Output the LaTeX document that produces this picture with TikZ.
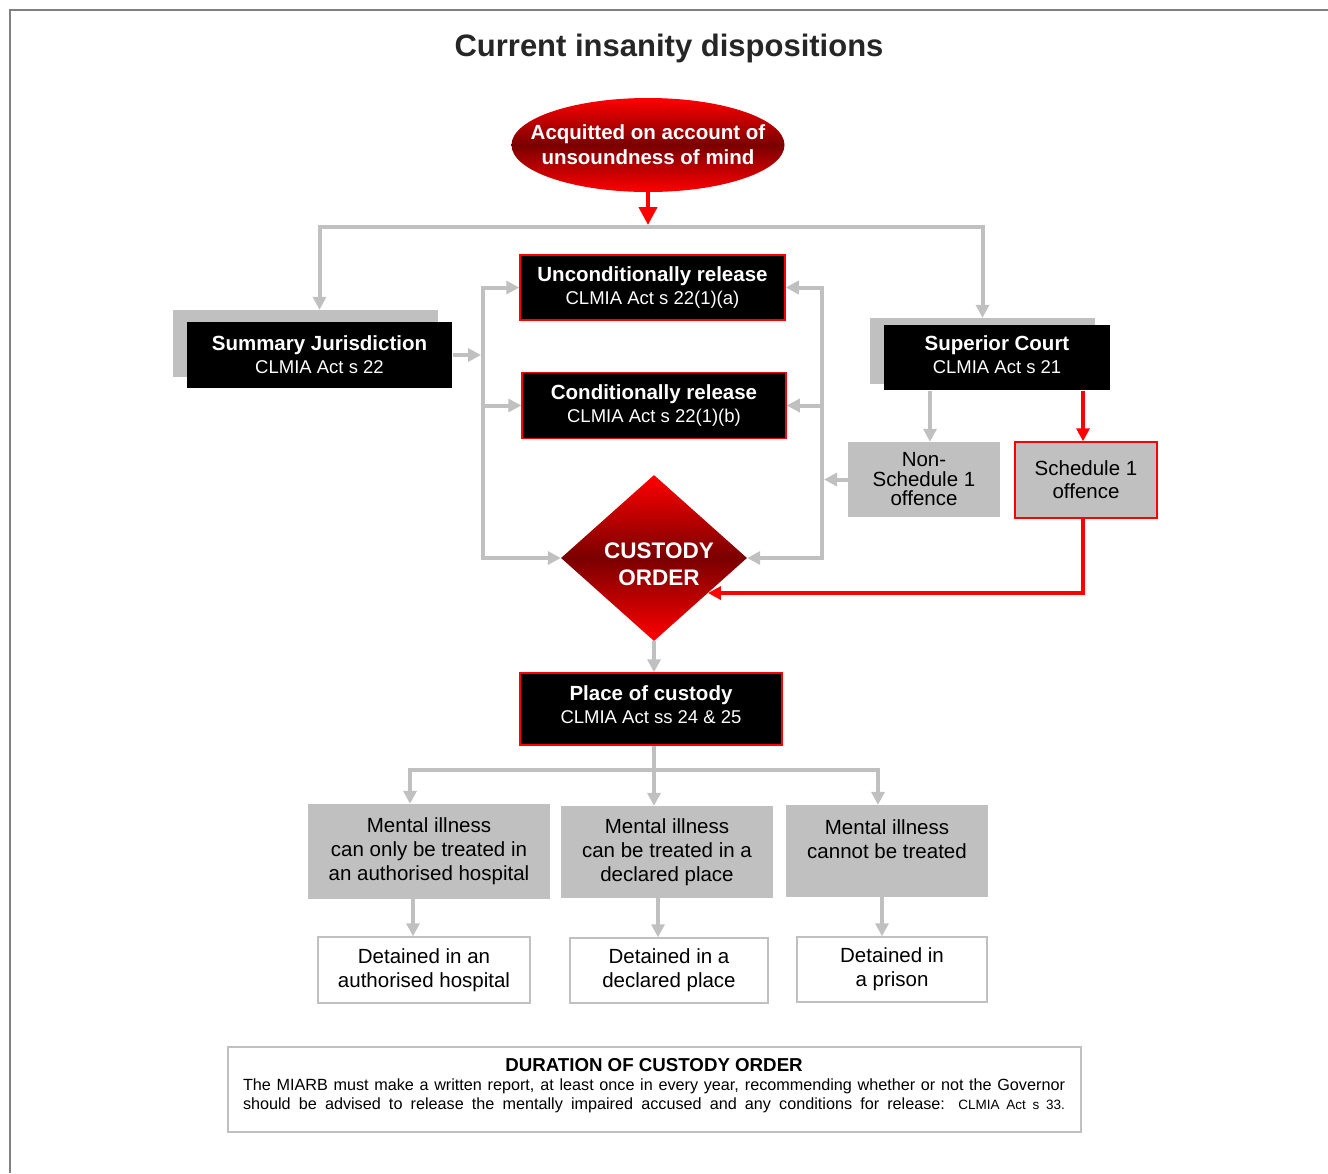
\documentclass[tikz,border=0pt]{standalone}
\usepackage{fontspec}
\setmainfont{Liberation Sans}
\usetikzlibrary{shapes.geometric,arrows.meta,calc}
\definecolor{gr}{HTML}{C0C0C0}
\definecolor{framegray}{HTML}{808080}
\definecolor{dred}{HTML}{7A0000}
\newcommand\hdtxt[1]{{\bfseries\fontsize{20.5}{23}\selectfont #1}}
\begin{document}
\begin{tikzpicture}[x=1pt,y=-1pt,
  gline/.style={draw=gr,line width=4pt},
  garrow/.style={gline,-{Triangle[length=13pt,width=13pt]}},
  gtwo/.style={gline,{Triangle[length=13pt,width=13pt]}-{Triangle[length=13pt,width=13pt]}},
  rarrow/.style={draw=red,line width=4pt,-{Triangle[length=13pt,width=13pt]}},
  bigrarrow/.style={draw=red,line width=4pt,-{Triangle[length=18pt,width=18pt]}},
  bbox/.style={rectangle,fill=black,draw=red,line width=1.5pt,text=white,align=center,inner sep=0pt,font=\fontsize{18.5}{23}\selectfont},
  bboxn/.style={bbox,draw=none},
  shadowbox/.style={rectangle,fill=gr,inner sep=0pt},
  gbox/.style={rectangle,fill=gr,align=center,inner sep=0pt,font=\fontsize{20.5}{24}\selectfont},
  wbox/.style={rectangle,fill=white,draw=gr,line width=1.5pt,align=center,inner sep=0pt,font=\fontsize{20.5}{24}\selectfont}
]
\useasboundingbox (0,0) rectangle (1328,1173);
\fill[white] (0,0) rectangle (1328,1173);
\draw[framegray,line width=2pt] (10,1173) -- (10,10) -- (1328,10);

\node[font=\bfseries\fontsize{31}{36}\selectfont,text=black!85,inner sep=0pt] (title) at (669,48) {Current insanity dispositions};

\node[ellipse,minimum width=273pt,minimum height=94pt,inner xsep=-25pt,inner ysep=0pt,top color=red,bottom color=red,middle color=dred,text=white,align=center,font=\bfseries\fontsize{20.5}{25}\selectfont] (acq) at (648,145) {Acquitted on account of\\unsoundness of mind};

\coordinate (split) at (648,227);

\node[shadowbox,minimum width=265pt,minimum height=67pt] (sjs) at (305.5,343.5) {};
\node[bboxn,minimum width=265pt,minimum height=66pt] (sj) at (319.5,355) {\hdtxt{Summary Jurisdiction}\\CLMIA Act s 22};

\node[shadowbox,minimum width=225pt,minimum height=66pt] (scs) at (982.5,351) {};
\node[bboxn,minimum width=226pt,minimum height=65pt] (sc) at (997,357.5) {\hdtxt{Superior Court}\\CLMIA Act s 21\\[-18pt]};

\node[bbox,minimum width=265pt,minimum height=65pt] (uc) at (652.5,287.5) {\hdtxt{Unconditionally release}\\CLMIA Act s 22(1)(a)};
\node[bbox,minimum width=264pt,minimum height=66pt] (cr) at (654,405.5) {\hdtxt{Conditionally release}\\CLMIA Act s 22(1)(b)};

\node[gbox,minimum width=152pt,minimum height=75pt,font=\fontsize{20.5}{19.5}\selectfont] (ns) at (924,479.5) {Non-\\Schedule 1\\offence};
\node[gbox,draw=red,line width=1.5pt,minimum width=142pt,minimum height=76pt,font=\fontsize{20.5}{23}\selectfont] (sch) at (1086,480) {Schedule 1\\offence};

\node[diamond,minimum width=186pt,minimum height=166pt,inner sep=0pt,top color=red,bottom color=red,middle color=dred] (co) at (654,558) {};
\node[text=white,font=\bfseries\fontsize{22.5}{27}\selectfont,align=center,inner sep=0pt] (cot) at (659,564) {CUSTODY\\ORDER};

\node[bbox,minimum width=262pt,minimum height=72pt] (pc) at (651,709) {\hdtxt{Place of custody}\\CLMIA Act ss 24 \& 25\\[-14pt]};

\node[gbox,minimum width=242pt,minimum height=95pt] (m1) at (429,851.5) {Mental illness\\can only be treated in\\an authorised hospital};
\node[gbox,minimum width=212pt,minimum height=92pt] (m2) at (667,852) {Mental illness\\can be treated in a\\declared place};
\node[gbox,minimum width=202pt,minimum height=92pt] (m3) at (887,851) {Mental illness\\cannot be treated\\ \mbox{}};

\node[wbox,minimum width=212pt,minimum height=66pt] (d1) at (424,970) {Detained in an\\authorised hospital};
\node[wbox,minimum width=198pt,minimum height=65pt] (d2) at (669,970.5) {Detained in a\\declared place};
\node[wbox,minimum width=190pt,minimum height=65pt] (d3) at (892,969.5) {Detained in\\a prison};

\node[rectangle,draw=gr,line width=1.5pt,minimum width=853pt,minimum height=85pt,inner sep=0pt] (dur) at (654.5,1089.5) {};
\node[align=center,inner sep=0pt,font=\fontsize{16.2}{19}\selectfont] (durt) at (654,1086) {{\bfseries\fontsize{18.7}{20}\selectfont DURATION OF CUSTODY ORDER}\\
\makebox[822pt][s]{The MIARB must make a written report, at least once in every year, recommending whether or not the Governor}\\
\makebox[822pt][s]{should be advised to release the mentally impaired accused and any conditions for release: {\fontsize{13.5}{19}\selectfont CLMIA Act s 33.}}};

% top distribution
\draw[garrow] (split) -| (sj.north |- sjs.north);
\draw[garrow] (split) -| (scs.north);
\draw[bigrarrow,shorten >=2pt] (acq.south) -- (split);

% left rail
\coordinate (lx) at (483,0);
\draw[garrow,shorten >=2pt] (sj.east) -- (sj.east -| lx);
\draw[gtwo] (uc.west) -| (lx |- co.west) -- (co.west);
\draw[garrow] (lx |- cr.west) -- (cr.west);

% right rail
\coordinate (rx) at (822,0);
\draw[gtwo] (uc.east) -| (rx |- co.east) -- (co.east);
\draw[garrow] (rx |- cr.east) -- (cr.east);
\draw[garrow,shorten >=2pt] (ns.west) -- (ns.west -| rx);

% superior court branches
\coordinate (nsn) at ([xshift=6pt]ns.north);
\draw[garrow] (nsn |- sc.south) -- (nsn);
\coordinate (schn) at ([xshift=-3pt]sch.north);
\draw[rarrow] (schn |- sc.south) -- (schn);
\draw[rarrow] (schn |- sch.south) |- (co.-33);

% custody order to place
\coordinate (cx) at (co.south);
\draw[garrow] (cx) -- (cx |- pc.north);
\coordinate (b1) at (410,770);
\coordinate (b3) at (878,770);
\draw[garrow] (cx |- pc.south) -- (cx |- m2.north);
\draw[garrow] (cx |- b1) -| (b1 |- m1.north);
\draw[garrow] (cx |- b1) -| (b3 |- m3.north);

% to detention
\coordinate (a1) at ([xshift=-16pt]m1.south);
\coordinate (a2) at ([xshift=-9pt]m2.south);
\coordinate (a3) at ([xshift=-5pt]m3.south);
\draw[garrow] (a1) -- (a1 |- d1.north);
\draw[garrow] (a2) -- (a2 |- d2.north);
\draw[garrow] (a3) -- (a3 |- d3.north);
\end{tikzpicture}
\end{document}
